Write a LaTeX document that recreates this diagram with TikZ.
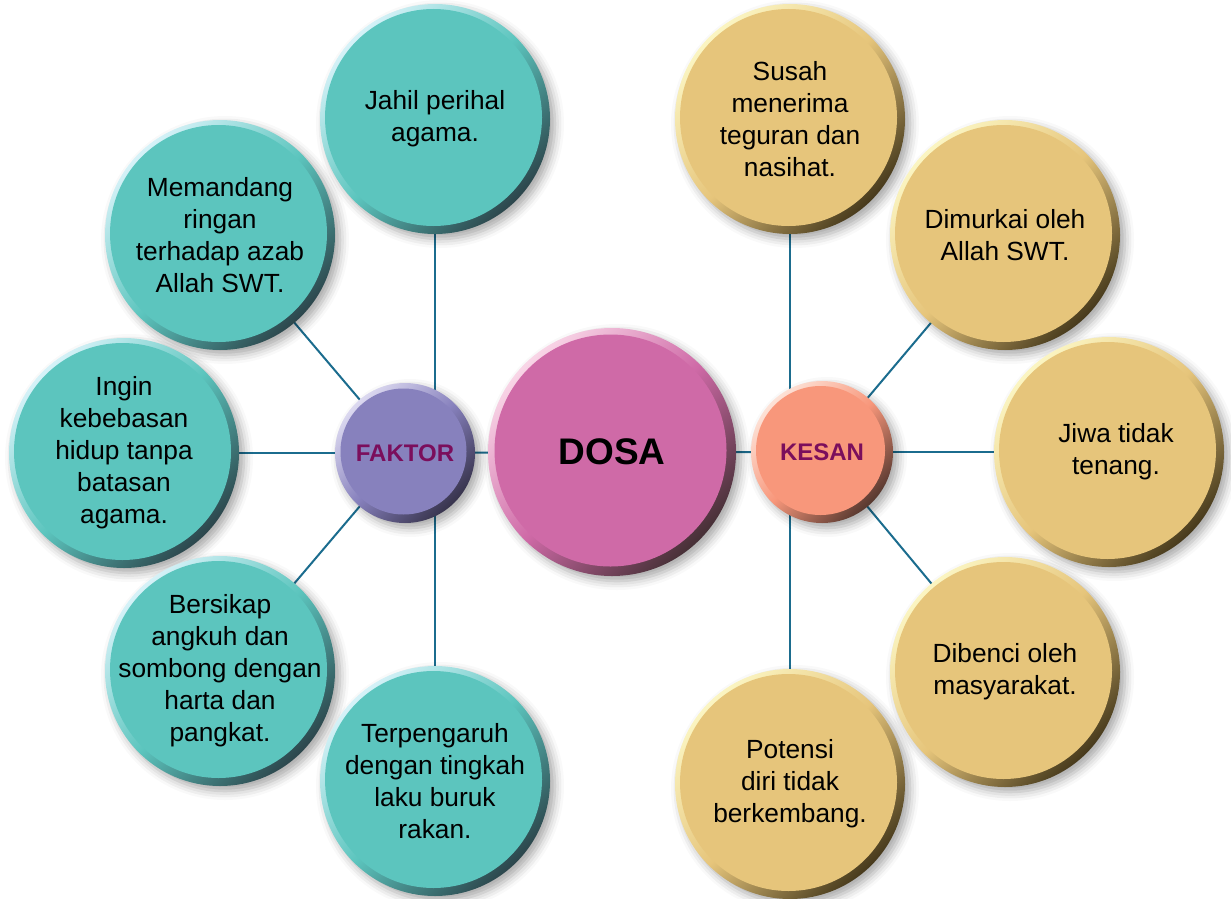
\documentclass[tikz,border=0pt]{standalone}
\usepackage{fontspec}
\setmainfont{Liberation Sans}
\usetikzlibrary{shadows.blur,backgrounds}
\definecolor{tealF}{HTML}{5CC5BE}
\definecolor{tealL}{HTML}{D6F2F8}
\definecolor{tealD}{HTML}{2C464C}
\definecolor{goldF}{HTML}{E6C57B}
\definecolor{goldL}{HTML}{FBF5C2}
\definecolor{goldD}{HTML}{473A1C}
\definecolor{purF}{HTML}{8781BD}
\definecolor{purL}{HTML}{DCD9F0}
\definecolor{purD}{HTML}{37334C}
\definecolor{pinkF}{HTML}{CF6AA7}
\definecolor{pinkL}{HTML}{F9D6E7}
\definecolor{pinkD}{HTML}{463036}
\definecolor{salF}{HTML}{F8977B}
\definecolor{salL}{HTML}{FDE2D7}
\definecolor{salD}{HTML}{57382F}
\definecolor{lineC}{HTML}{1B6C8E}
\definecolor{magT}{HTML}{7B0E5C}
\tikzset{
  bub/.style n args={5}{circle, inner sep=-30pt, minimum size=#1,
    top color=#3, bottom color=#4, middle color=#2, shading angle=45,
    blur shadow={shadow xshift=5pt, shadow yshift=-5pt, shadow blur radius=9pt, shadow opacity=35},
    path picture={\fill[#2] ([shift={(-1.5pt,1.5pt)}]path picture bounding box.center) circle[radius=#5];}},
  tealbub/.style={bub={230pt}{tealF}{tealL}{tealD}{108.5pt}, align=center, font=\fontsize{26.3}{32}\selectfont},
  goldbub/.style={bub={230pt}{goldF}{goldL}{goldD}{108.5pt}, align=center, font=\fontsize{26.3}{32}\selectfont},
  link/.style={draw=lineC, line width=2pt},
}
\begin{document}
\begin{tikzpicture}[x=1pt,y=-1pt]
\useasboundingbox (0,0) rectangle (1231,899);
% hubs
\node[bub={140pt}{purF}{purL}{purD}{63pt}, font=\bfseries\fontsize{24}{28}\selectfont, text=magT] (faktor) at (405,453) {FAKTOR};
\node[bub={248pt}{pinkF}{pinkL}{pinkD}{116pt}, font=\bfseries\fontsize{37}{40}\selectfont] (dosa) at (612,452) {DOSA};
\node[bub={142pt}{salF}{salL}{salD}{64.5pt}, font=\bfseries\fontsize{24}{28}\selectfont, text=magT] (kesan) at (822,452) {KESAN};
% left
\node[tealbub] (jahil) at (435,119) {Jahil perihal\\agama.};
\node[tealbub] (memandang) at (220,235) {Memandang\\ringan\\terhadap azab\\Allah SWT.};
\node[tealbub] (ingin) at (124,453) {Ingin\\kebebasan\\hidup tanpa\\batasan\\agama.};
\node[tealbub] (bersikap) at (220,671) {Bersikap\\angkuh dan\\sombong dengan\\harta dan\\pangkat.};
\node[tealbub] (terpengaruh) at (435,781) {Terpengaruh\\dengan tingkah\\laku buruk\\rakan.};
% right
\node[goldbub] (susah) at (790,119) {Susah\\menerima\\teguran dan\\nasihat.};
\node[goldbub] (dimurkai) at (1005,235) {Dimurkai oleh\\Allah SWT.};
\node[goldbub] (jiwa) at (1109,452) {\hspace*{14pt}Jiwa tidak\\\hspace*{14pt}tenang.};
\node[goldbub] (dibenci) at (1005,672) {Dibenci oleh\\masyarakat.};
\node[goldbub] (potensi) at (790,784) {Potensi\\diri tidak\\berkembang.};
\coordinate (fv) at (435,453);
\coordinate (kv) at (790,452);
\begin{scope}[on background layer]
\draw[link] (jahil.center) -- (jahil.center |- fv) -- (terpengaruh.center);
\draw[link] (memandang.center) -- (faktor.center);
\draw[link] (ingin.center) -- (faktor.center);
\draw[link] (bersikap.center) -- (faktor.center);
\draw[link] (faktor.center) -- (dosa.center) -- (kesan.center);
\draw[link] (susah.center) -- (kv) -- (potensi.center);
\draw[link] (dimurkai.center) -- (kesan.center);
\draw[link] (jiwa.center) -- (kesan.center);
\draw[link] (dibenci.center) -- (kesan.center);
\end{scope}
\end{tikzpicture}
\end{document}
